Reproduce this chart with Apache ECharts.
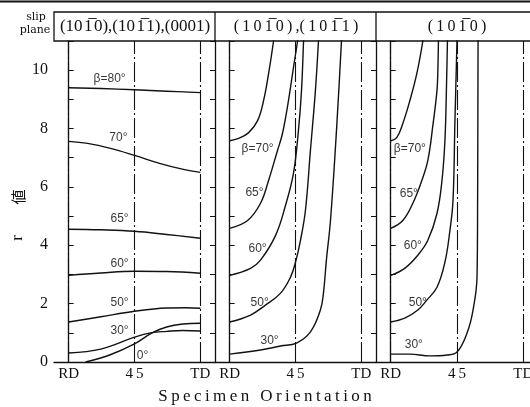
<!doctype html>
<html>
<head>
<meta charset="UTF-8">
<script src="https://cdn.jsdelivr.net/npm/echarts@6/dist/echarts.min.js"></script>
<style>html,body{margin:0;background:#fff}</style>
</head>
<body>
<div id="chart" style="width:530px;height:407px"></div>
<script>
// x: specimen orientation in degrees from RD (0) to TD (90); y: r value
var xTickValues = [0, 45, 90];
var xTickNames = ['RD', '4\u20095', 'TD'];
var yTickLabels = [0, 2, 4, 6, 8, 10];

var headerTexts = [
  '(10\u200a1\u0305\u200a0),(10\u200a1\u0305\u200a1),(0001)',
  '(\u20091\u20090\u20091\u0305\u20090\u2009)\u2009,(\u20091\u20090\u20091\u0305\u20091\u2009)',
  '(\u20091\u20090\u20091\u0305\u20090\u2009)'
];

// panel 1 : (10-10),(10-11),(0001)
var p1B80 = [[0, 9.40], [22, 9.37], [45, 9.33], [67, 9.28], [90, 9.23]];
var p1B70 = [[0, 7.56], [13, 7.49], [28.6, 7.32], [45, 7.08], [62.7, 6.80], [78.4, 6.60], [90, 6.50]];
var p1B65 = [[0, 4.55], [22, 4.53], [45, 4.48], [67, 4.37], [90, 4.24]];
var p1B60 = [[0, 2.97], [22, 3.05], [45, 3.11], [67, 3.10], [90, 3.04]];
var p1B50 = [[0, 1.37], [22, 1.55], [45, 1.74], [67, 1.85], [80, 1.86], [90, 1.84]];
var p1B30 = [[0, 0.31], [22, 0.44], [45, 0.85], [56, 1.0], [67, 1.05], [78, 1.08], [90, 1.06]];
var p1B0 = [[11.6, 0], [28, 0.24], [45, 0.62], [57, 1.0], [67, 1.2], [78, 1.3], [90, 1.33]];

// panel 2 : (10-10),(10-11)
var p2B70 = [[0, 7.58], [6.1, 7.66], [13, 7.86], [19.1, 8.27], [23.2, 8.96], [26.6, 9.88], [30, 11.0], [30.6, 11.3]];
var p2B65 = [[0, 4.58], [12.3, 4.85], [21.1, 5.44], [26.6, 6.22], [32.7, 7.25], [36.1, 7.83], [40.2, 8.96], [43.6, 10.09], [46.4, 11.0], [46.8, 11.3]];
var p2B60 = [[0, 2.97], [14.3, 3.21], [21.1, 3.49], [31.4, 4.34], [38.2, 5.37], [43.6, 6.46], [47, 7.93], [49.1, 9.30], [50.5, 11.0], [50.7, 11.3]];
var p2B50 = [[0, 1.37], [14.3, 1.61], [24.5, 1.95], [34.8, 2.36], [41.6, 2.91], [45, 3.42], [48.4, 4.17], [51.8, 5.2], [55.2, 7.25], [58.6, 9.3], [60.7, 11.0], [61, 11.3]];
var p2B30 = [[0, 0.27], [21.1, 0.41], [34.8, 0.55], [45.7, 0.65], [55.2, 1.03], [62, 1.78], [64.1, 2.36], [66.1, 3.49], [68.9, 4.85], [73, 7.93], [76.4, 11.0], [76.6, 11.3]];

// panel 3 : (10-10)
var p3B70 = [[0, 7.58], [4.1, 7.69], [8.2, 8.17], [13, 8.96], [17.7, 9.88], [21.8, 11.0], [22.2, 11.3]];
var p3B65 = [[0, 4.58], [8.2, 4.85], [15, 5.44], [21.1, 6.22], [25.2, 6.91], [28.6, 8.1], [31.4, 9.3], [32, 9.98], [32.4, 11.0], [32.5, 11.3]];
var p3B60 = [[0, 2.97], [9.5, 3.21], [18.4, 3.66], [25.2, 4.17], [31.4, 5.09], [34.8, 6.22], [36.8, 7.59], [37.8, 9.3], [38.5, 11.0], [38.6, 11.3]];
var p3B50 = [[0, 1.37], [9.5, 1.5], [18.4, 1.78], [24.5, 2.12], [31.4, 2.56], [36.8, 3.42], [40.2, 4.51], [42.3, 5.54], [43.6, 8.27], [45, 11.0], [45.1, 11.3]];
var p3B30 = [[0, 0.27], [13, 0.27], [26.6, 0.21], [38.2, 0.24], [45, 0.34], [51.8, 0.99], [55.9, 1.78], [58.6, 2.91], [59, 5.54], [59.3, 11.0], [59.35, 11.3]];

// curve labels [x, y, text]
var p1Labels = [[28, 9.71, '\u03b2=80\u00b0'], [34, 7.69, '70\u00b0'], [34.8, 4.92, '65\u00b0'], [34.8, 3.38, '60\u00b0'],
  [34.8, 2.02, '50\u00b0'], [34.8, 1.06, '30\u00b0'], [50.5, 0.21, '0\u00b0']];
var p2Labels = [[19.1, 7.32, '\u03b2=70\u00b0'], [17, 5.81, '65\u00b0'], [19.1, 3.9, '60\u00b0'], [20.5, 2.02, '50\u00b0'], [27.3, 0.72, '30\u00b0']];
var p3Labels = [[13, 7.32, '\u03b2=70\u00b0'], [12.3, 5.78, '65\u00b0'], [15, 4.0, '60\u00b0'], [18.4, 2.02, '50\u00b0'], [15.7, 0.58, '30\u00b0']];

var ink = '#111';
var serif = 'Liberation Serif';
var gridLeft = [54, 215, 376];
var gridWidth = [161, 161, 162];

var grids = [], xAxes = [], yAxes = [], series = [];
var yIdx = [];

function yAx(gi, pos, labels) {
  return {
    type: 'value', gridIndex: gi, position: pos, min: 0, max: 11, interval: 1,
    axisLine: {show: true, lineStyle: {color: ink, width: 1.3}},
    axisTick: {show: true, inside: true, length: 5, lineStyle: {color: ink, width: 1}},
    axisLabel: labels ? {
      show: true, color: ink, fontFamily: serif, fontSize: 16, margin: 6,
      formatter: function (v) { return yTickLabels.indexOf(v) >= 0 ? String(v) : ''; }
    } : {show: false},
    splitLine: {show: false}
  };
}

for (var g = 0; g < 3; g++) {
  grids.push({left: gridLeft[g], top: 41, width: gridWidth[g], height: 321, outerBoundsMode: 'none', containLabel: false});
  xAxes.push({
    type: 'value', gridIndex: g, min: -10, max: 100,
    axisLine: {show: true, lineStyle: {color: ink, width: 1.3}},
    axisTick: {show: false},
    splitLine: {show: false},
    axisLabel: {
      show: true, customValues: xTickValues, color: ink, fontFamily: serif, fontSize: 15, margin: 5,
      formatter: function (v) { return xTickNames[xTickValues.indexOf(v)]; }
    }
  });
  yIdx.push(yAxes.length);
  yAxes.push(yAx(g, 'left', g === 0));
  if (g < 2) yAxes.push(yAx(g, 'right', false));
}

function curve(data, g) {
  return {
    type: 'line', xAxisIndex: g, yAxisIndex: yIdx[g], data: data,
    smooth: 0.4, symbol: 'none', clip: true, silent: true,
    lineStyle: {color: ink, width: 1.4}
  };
}

function labels(data, g) {
  return {
    type: 'scatter', xAxisIndex: g, yAxisIndex: yIdx[g], data: data, silent: true,
    symbolSize: 1, itemStyle: {color: 'rgba(0,0,0,0)'},
    label: {
      show: true, position: 'inside', color: '#000', fontFamily: 'Liberation Sans', fontSize: 12,
      formatter: function (p) { return p.value[2]; }
    }
  };
}

function guides(g) {
  return {
    type: 'line', xAxisIndex: g, yAxisIndex: yIdx[g], data: [], silent: true,
    markLine: {
      symbol: 'none', silent: true, animation: false,
      label: {show: false},
      lineStyle: {color: ink, width: 1.1, type: [20, 3, 2, 3]},
      data: xTickValues.map(function (v) { return {xAxis: v}; })
    }
  };
}

[p1B80, p1B70, p1B65, p1B60, p1B50, p1B30, p1B0].forEach(function (d) { series.push(curve(d, 0)); });
[p2B70, p2B65, p2B60, p2B50, p2B30].forEach(function (d) { series.push(curve(d, 1)); });
[p3B70, p3B65, p3B60, p3B50, p3B30].forEach(function (d) { series.push(curve(d, 2)); });
series.push(guides(0), guides(1), guides(2));
series.push(labels(p1Labels, 0), labels(p2Labels, 1), labels(p3Labels, 2));

var graphic = [
  {type: 'line', shape: {x1: 0, y1: 1.5, x2: 530, y2: 1.5}, style: {stroke: ink, lineWidth: 2}},
  {type: 'rect', shape: {x: 54, y: 12, width: 490, height: 29}, style: {fill: 'none', stroke: ink, lineWidth: 1.3}},
  {type: 'line', shape: {x1: 215, y1: 12, x2: 215, y2: 41}, style: {stroke: ink, lineWidth: 1.3}},
  {type: 'line', shape: {x1: 376, y1: 12, x2: 376, y2: 41}, style: {stroke: ink, lineWidth: 1.3}},
  {type: 'text', x: 36, y: 17, style: {text: 'slip', fill: ink, font: '11px "DejaVu Serif"', textAlign: 'center', textVerticalAlign: 'middle'}},
  {type: 'text', x: 35, y: 30, style: {text: 'plane', fill: ink, font: '11px "DejaVu Serif"', textAlign: 'center', textVerticalAlign: 'middle'}},
  {type: 'text', x: 18, y: 238, rotation: Math.PI / 2, style: {text: 'r', fill: ink, font: '17px "Liberation Serif"', textAlign: 'center', textVerticalAlign: 'middle'}},
  {type: 'text', x: 18, y: 197, rotation: Math.PI / 2, style: {text: '\u5024', fill: ink, font: '15px "Noto Sans CJK JP"', textAlign: 'center', textVerticalAlign: 'middle'}},
  {type: 'text', x: 265, y: 397, style: {text: 'Specimen Orientation'.split('').join('\u2009'), fill: ink, font: '17px "Liberation Serif"', textAlign: 'center', textVerticalAlign: 'middle'}}
];
var headerCenters = [135, 296, 457];
var headerSizes = [17, 16, 16];
for (var h = 0; h < 3; h++) {
  graphic.push({type: 'text', x: headerCenters[h], y: 27, style: {text: headerTexts[h], fill: ink, font: headerSizes[h] + 'px "Liberation Serif"', textAlign: 'center', textVerticalAlign: 'middle'}});
}

var myChart = echarts.init(document.getElementById('chart'));
myChart.setOption({
  animation: false,
  backgroundColor: '#fff',
  grid: grids,
  xAxis: xAxes,
  yAxis: yAxes,
  series: series,
  graphic: graphic
});
</script>
</body>
</html>
